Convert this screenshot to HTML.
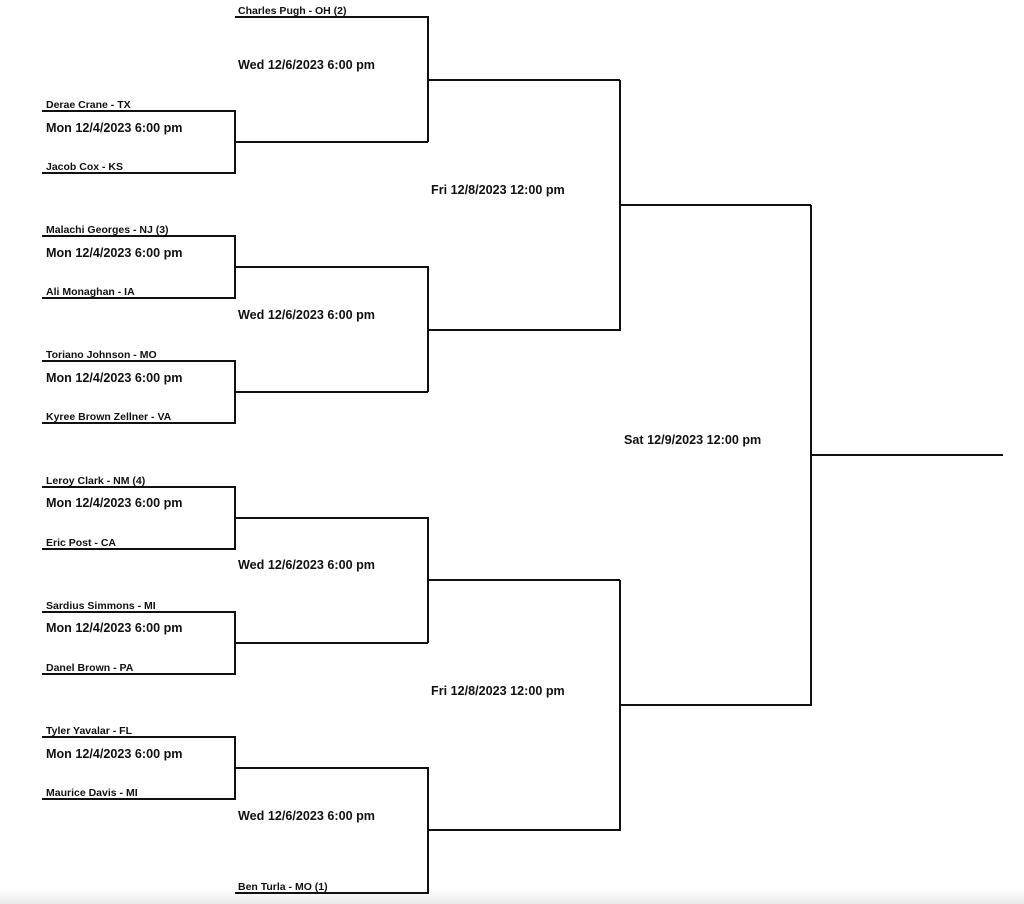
<!DOCTYPE html>
<html><head><meta charset="utf-8"><style>
html,body{margin:0;padding:0;background:#fff;width:1024px;height:904px;overflow:hidden}
svg{display:block}
.n{font:bold 10.5px "Liberation Sans",sans-serif;fill:#111}
.d{font:bold 12.6px "Liberation Sans",sans-serif;fill:#111}
</style></head><body>
<svg width="1024" height="904" viewBox="0 0 1024 904">
<defs><linearGradient id="g" x1="0" y1="0" x2="0" y2="1"><stop offset="0" stop-color="#fff"/><stop offset="1" stop-color="#e8e8e8"/></linearGradient></defs>
<rect x="0" y="890" width="1024" height="14" fill="url(#g)"/>
<g stroke="#111" stroke-width="2" fill="none">
<path d="M235 17H428V142M42 111H235V173H42M235 142H428M428 80H620"/>
<path d="M42 236H235V298H42M235 267H428V392M42 361H235V423H42M235 392H428M428 330H620V80M620 205H811"/>
<path d="M42 487H235V549H42M235 518H428V643M42 612H235V674H42M235 643H428M428 580H620"/>
<path d="M42 737H235V799H42M235 768H428V893H235M428 830H620V580M620 705H811V205M811 455H1003"/>
</g>
<text class="n" x="238" y="14">Charles Pugh - OH (2)</text>
<text class="d" x="238" y="69">Wed 12/6/2023 6:00 pm</text>
<text class="n" x="46" y="108">Derae Crane - TX</text>
<text class="d" x="46" y="132">Mon 12/4/2023 6:00 pm</text>
<text class="n" x="46" y="170">Jacob Cox - KS</text>
<text class="d" x="431" y="194">Fri 12/8/2023 12:00 pm</text>
<text class="n" x="46" y="233">Malachi Georges - NJ (3)</text>
<text class="d" x="46" y="257">Mon 12/4/2023 6:00 pm</text>
<text class="n" x="46" y="295">Ali Monaghan - IA</text>
<text class="d" x="238" y="319">Wed 12/6/2023 6:00 pm</text>
<text class="n" x="46" y="358">Toriano Johnson - MO</text>
<text class="d" x="46" y="382">Mon 12/4/2023 6:00 pm</text>
<text class="n" x="46" y="420">Kyree Brown Zellner - VA</text>
<text class="d" x="624" y="444">Sat 12/9/2023 12:00 pm</text>
<text class="n" x="46" y="484">Leroy Clark - NM (4)</text>
<text class="d" x="46" y="507">Mon 12/4/2023 6:00 pm</text>
<text class="n" x="46" y="546">Eric Post - CA</text>
<text class="d" x="238" y="569">Wed 12/6/2023 6:00 pm</text>
<text class="n" x="46" y="609">Sardius Simmons - MI</text>
<text class="d" x="46" y="632">Mon 12/4/2023 6:00 pm</text>
<text class="n" x="46" y="671">Danel Brown - PA</text>
<text class="d" x="431" y="695">Fri 12/8/2023 12:00 pm</text>
<text class="n" x="46" y="734">Tyler Yavalar - FL</text>
<text class="d" x="46" y="758">Mon 12/4/2023 6:00 pm</text>
<text class="n" x="46" y="796">Maurice Davis - MI</text>
<text class="d" x="238" y="820">Wed 12/6/2023 6:00 pm</text>
<text class="n" x="238" y="890">Ben Turla - MO (1)</text>
</svg>
</body></html>
